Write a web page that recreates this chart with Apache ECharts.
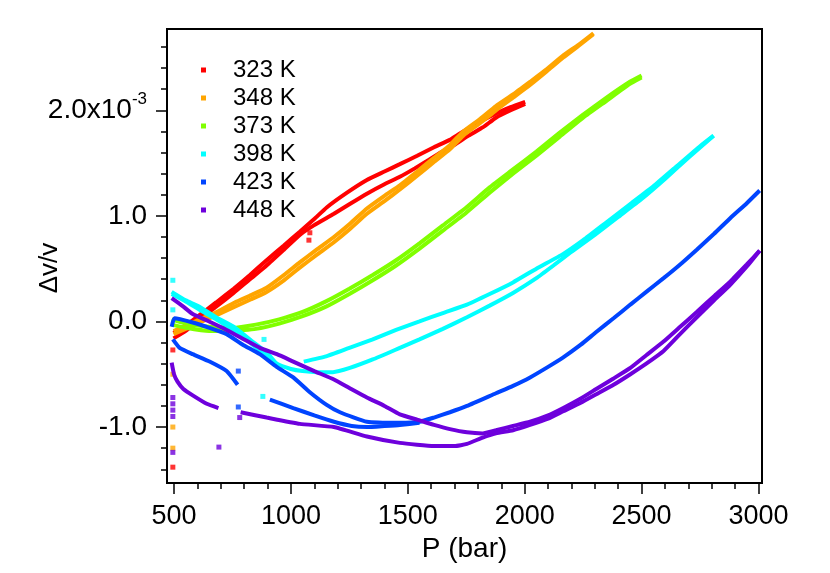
<!DOCTYPE html>
<html>
<head>
    <meta charset="utf-8">
    <title>dv/v vs P</title>
    <script src="https://cdn.jsdelivr.net/npm/echarts@6/dist/echarts.min.js"></script>
</head>
<body style="margin:0;background:#fff">
<div id="main" style="width:830px;height:573px;"></div>
<script type="text/javascript">
    // y values are dv/v in units of 1e-3, x is P in bar
    var temps  = ['323 K', '348 K', '373 K', '398 K', '423 K', '448 K'];
    var colors = ['#ff0000', '#ffa500', '#80ff00', '#00ffff', '#0044ff', '#6e00dc'];

    var xMajor = [500, 1000, 1500, 2000, 2500, 3000];
    var xMinor = [600, 700, 800, 900, 1100, 1200, 1300, 1400, 1600, 1700, 1800, 1900,
                  2100, 2200, 2300, 2400, 2600, 2700, 2800, 2900];
    var yMajor = [-1, 0, 1, 2];
    var yMinor = [-1.4, -1.2, -0.8, -0.6, -0.4, -0.2, 0.2, 0.4, 0.6, 0.8,
                  1.2, 1.4, 1.6, 1.8, 2.2, 2.4, 2.6];

    // 323 K
    var red1 = [[498,-0.11],[550,-0.04],[609,0.06],[680,0.18],[755,0.31],[825,0.44],[896,0.58],[970,0.72],
                [1038,0.85],[1100,0.97],[1153,1.08],[1240,1.22],[1325,1.34],[1400,1.42],[1466,1.49],[1540,1.57],
                [1612,1.65],[1680,1.72],[1723,1.78],[1800,1.88],[1877,1.97],[1940,2.03],[2002,2.08]];
    var red2 = [[498,-0.16],[550,-0.09],[609,0.02],[680,0.14],[755,0.27],[825,0.40],[896,0.53],[970,0.68],
                [1038,0.82],[1098,0.91],[1184,1.02],[1250,1.11],[1325,1.21],[1400,1.30],[1466,1.37],[1530,1.45],
                [1582,1.52],[1640,1.60],[1698,1.67],[1760,1.76],[1822,1.84],[1877,1.93],[1940,2.00],[2002,2.06]];
    var redPts = [[495,-0.27],[495,-1.38],[1081,0.84],[1077,0.77]];

    // 348 K
    var orange1 = [[498,-0.09],[550,-0.04],[610,0.02],[682,0.09],[760,0.18],[830,0.25],[896,0.32],[970,0.44],
                   [1038,0.56],[1110,0.68],[1184,0.80],[1255,0.93],[1325,1.07],[1400,1.19],[1466,1.29],[1540,1.42],
                   [1612,1.55],[1680,1.67],[1737,1.80],[1810,1.92],[1877,2.04],[1950,2.15],[2023,2.27],[2095,2.39],
                   [2165,2.52],[2230,2.62],[2294,2.73]];
    var orange2 = [[498,-0.12],[550,-0.07],[610,-0.01],[682,0.06],[760,0.14],[830,0.21],[896,0.28],[970,0.39],
                   [1038,0.51],[1110,0.63],[1184,0.75],[1255,0.88],[1325,1.02],[1400,1.14],[1466,1.25],[1540,1.38],
                   [1612,1.51],[1680,1.63],[1737,1.76],[1810,1.88],[1877,2.00],[1950,2.12],[2023,2.24],[2095,2.37],
                   [2165,2.50],[2230,2.61],[2294,2.72]];
    var orangePts = [[495,-0.50],[495,-1.00],[495,-1.20]];

    // 373 K
    var green1 = [[490,0.02],[550,-0.02],[650,-0.05],[750,-0.06],[850,-0.03],[950,0.02],[1050,0.09],[1150,0.19],
                  [1250,0.31],[1350,0.44],[1450,0.58],[1550,0.74],[1650,0.91],[1750,1.08],[1850,1.27],[1950,1.44],
                  [2050,1.61],[2150,1.79],[2250,1.96],[2350,2.12],[2450,2.27],[2500,2.33]];
    var green2 = [[490,-0.03],[550,-0.06],[650,-0.09],[750,-0.09],[850,-0.07],[950,-0.02],[1050,0.05],[1150,0.14],
                  [1250,0.26],[1350,0.39],[1450,0.53],[1550,0.69],[1650,0.86],[1750,1.03],[1850,1.22],[1950,1.40],
                  [2050,1.57],[2150,1.75],[2250,1.93],[2350,2.09],[2450,2.25],[2500,2.31]];
    var greenPts = [];

    // 398 K
    var cyan1 = [[490,0.28],[550,0.20],[609,0.14],[680,0.04],[755,-0.05],[830,-0.18],[900,-0.30],[940,-0.40],
                 [1000,-0.45],[1050,-0.47],[1111,-0.48],[1180,-0.48],[1252,-0.44],[1350,-0.36],[1466,-0.25],
                 [1550,-0.17],[1650,-0.07],[1753,0.04],[1850,0.15],[1950,0.27],[2050,0.41],[2123,0.53],[2200,0.66],
                 [2300,0.82],[2400,0.99],[2500,1.16],[2600,1.35],[2700,1.55],[2808,1.76]];
    var cyan2a = [[490,0.26],[550,0.19],[609,0.11],[680,0.02],[755,-0.08],[830,-0.21],[880,-0.30],[910,-0.37]];
    var cyan2b = [[1055,-0.38],[1150,-0.33],[1250,-0.25],[1350,-0.17],[1450,-0.08],[1550,0.0],[1650,0.08],
                  [1753,0.16],[1850,0.26],[1950,0.37],[2050,0.50],[2165,0.64],[2250,0.77],[2350,0.94],[2450,1.11],
                  [2550,1.28],[2650,1.47],[2750,1.66],[2808,1.76]];
    var cyanPts = [[495,0.39],[495,0.11],[885,-0.17],[880,-0.71]];

    // 423 K
    var blue1 = [[490,-0.05],[502,0.03],[580,-0.01],[652,-0.06],[725,-0.12],[794,-0.22],[867,-0.31],[939,-0.43],
                 [1010,-0.53],[1081,-0.67],[1153,-0.79],[1210,-0.86],[1325,-0.95],[1466,-0.96],[1550,-0.95],
                 [1612,-0.91],[1680,-0.86],[1753,-0.80],[1877,-0.68],[1950,-0.61],[2023,-0.53],[2100,-0.43],
                 [2165,-0.34],[2240,-0.22],[2306,-0.10],[2380,0.03],[2452,0.16],[2520,0.28],[2594,0.41],
                 [2665,0.54],[2736,0.68],[2810,0.83],[2880,0.98],[2950,1.12],[3005,1.24]];
    var blue2a = [[495,-0.17],[524,-0.25],[580,-0.31],[652,-0.38],[725,-0.47],[772,-0.60]];
    var blue2b = [[910,-0.74],[1010,-0.82],[1100,-0.89],[1184,-0.95],[1260,-0.99],[1325,-1.00],[1400,-0.99],
                  [1466,-0.98],[1550,-0.96]];
    var bluePts = [[775,-0.47],[775,-0.81]];

    // 448 K
    var purple1 = [[490,0.22],[540,0.14],[580,0.07],[650,0.0],[725,-0.08],[800,-0.17],[867,-0.25],[940,-0.31],
                   [1010,-0.38],[1100,-0.47],[1184,-0.55],[1250,-0.63],[1325,-0.72],[1400,-0.80],[1466,-0.88],
                   [1540,-0.93],[1612,-0.98],[1680,-1.02],[1753,-1.05],[1820,-1.06],[1877,-1.03],[1950,-0.99],
                   [2023,-0.95],[2100,-0.89],[2165,-0.82],[2240,-0.73],[2306,-0.64],[2380,-0.54],[2452,-0.44],
                   [2520,-0.32],[2594,-0.19],[2660,-0.06],[2736,0.09],[2810,0.24],[2880,0.38],[2950,0.54],[3005,0.67]];
    var purple2a = [[490,-0.39],[500,-0.50],[515,-0.57],[540,-0.64],[580,-0.70],[640,-0.78],[690,-0.82]];
    var purple2b = [[785,-0.86],[896,-0.91],[1038,-0.97],[1184,-1.00],[1325,-1.09],[1466,-1.15],[1612,-1.18],
                    [1700,-1.18],[1753,-1.16],[1820,-1.10],[1877,-1.06],[1950,-1.03],[2023,-0.98],[2100,-0.92],
                    [2165,-0.85],[2240,-0.77],[2306,-0.69],[2380,-0.60],[2452,-0.50],[2520,-0.40],[2594,-0.28],
                    [2660,-0.13],[2736,0.04],[2810,0.20],[2880,0.35],[2950,0.52],[3005,0.67]];
    var purplePts = [[495,-0.72],[495,-0.78],[495,-0.84],[495,-0.90],[495,-1.24],[692,-1.19],[781,-0.91]];

    var branches = [
        [red1, red2],
        [orange1, orange2],
        [green1, green2],
        [cyan1, cyan2a, cyan2b],
        [blue1, blue2a, blue2b],
        [purple1, purple2a, purple2b]
    ];
    var strays = [redPts, orangePts, greenPts, cyanPts, bluePts, purplePts];

    var font = 'Liberation Sans, Arial, sans-serif';
    var myChart = echarts.init(document.getElementById('main'));

    var series = [];
    temps.forEach(function (t, i) {
        branches[i].forEach(function (b) {
            series.push({
                name: t,
                type: 'line',
                data: b,
                showSymbol: false,
                smooth: 0.15,
                color: colors[i],
                lineStyle: { width: 4, color: colors[i] },
                z: 2 + i
            });
        });
        series.push({
            name: t,
            type: 'scatter',
            data: strays[i],
            symbol: 'rect',
            symbolSize: 5,
            itemStyle: { color: colors[i] },
            z: 2 + i
        });
    });

    var tickLine = { color: '#000', width: 1.5 };

    var option = {
        animation: false,
        backgroundColor: '#fff',
        grid: {
            left: 167, right: 68, top: 29, bottom: 90,
            show: true, borderColor: '#000', borderWidth: 2
        },
        legend: {
            data: temps,
            orient: 'vertical',
            left: 196, top: 51,
            icon: 'rect',
            itemWidth: 5, itemHeight: 5,
            itemGap: 0,
            selectedMode: false,
            textStyle: { fontFamily: font, fontSize: 24, lineHeight: 28, color: '#000', padding: [0, 0, 0, 22] }
        },
        xAxis: [{
            type: 'value', min: 470, max: 3015,
            name: 'P (bar)', nameLocation: 'middle', nameGap: 50,
            nameTextStyle: { fontFamily: font, fontSize: 28, color: '#000' },
            axisLine: { onZero: false, lineStyle: { color: '#000', width: 2 } },
            axisTick: { show: true, length: 11, lineStyle: tickLine, customValues: xMajor },
            axisLabel: {
                customValues: xMajor, margin: 20, fontFamily: font, fontSize: 27, color: '#000',
                formatter: function (v) { return String(v); }
            },
            splitLine: { show: false }
        }, {
            type: 'value', min: 470, max: 3015, position: 'bottom', offset: 0,
            axisLine: { show: false, onZero: false },
            axisTick: { show: true, length: 6, lineStyle: tickLine, customValues: xMinor },
            axisLabel: { show: false },
            splitLine: { show: false }
        }],
        yAxis: [{
            type: 'value', min: -1.53, max: 2.77,
            name: 'Δv/v', nameLocation: 'middle', nameGap: 104, nameMoveOverlap: false,
            nameTextStyle: { fontFamily: font, fontSize: 26, color: '#000', padding: [0, 24, 0, 0] },
            axisLine: { show: true, onZero: false, lineStyle: { color: '#000', width: 2 } },
            axisTick: { show: true, length: 11, lineStyle: tickLine, customValues: yMajor },
            axisLabel: {
                customValues: yMajor, margin: 20, color: '#000',
                formatter: function (v) {
                    if (v === 2) return '{m|2.0x10}{s|-3}';
                    return '{m|' + v.toFixed(1) + '}';
                },
                rich: {
                    m: { fontFamily: font, fontSize: 28, color: '#000' },
                    s: { fontFamily: font, fontSize: 17, color: '#000', verticalAlign: 'top', padding: [0, 0, 22, 0] }
                }
            },
            splitLine: { show: false }
        }, {
            type: 'value', min: -1.53, max: 2.77, position: 'left', offset: 0,
            axisLine: { show: false, onZero: false },
            axisTick: { show: true, length: 6, lineStyle: tickLine, customValues: yMinor },
            axisLabel: { show: false },
            splitLine: { show: false }
        }],
        series: series
    };

    myChart.setOption(option);
</script>
</body>
</html>
